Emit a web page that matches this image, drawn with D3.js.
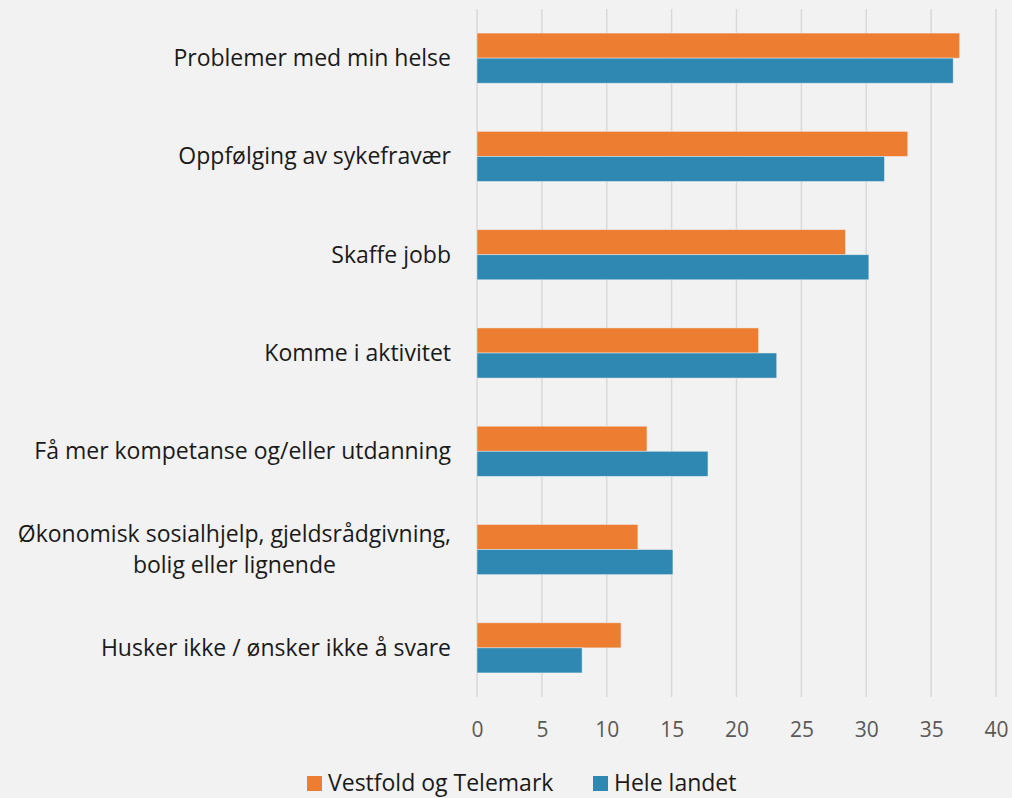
<!DOCTYPE html>
<html>
<head>
<meta charset="utf-8">
<script src="https://cdn.jsdelivr.net/npm/d3@7"></script>
<style>
  body { margin: 0; background: #f2f2f2; }
  svg { display: block; font-family: "Open Sans", sans-serif; }
</style>
</head>
<body>
<script>
// categories, top to bottom
var categories = [
    "Problemer med min helse",
    "Oppfølging av sykefravær",
    "Skaffe jobb",
    "Komme i aktivitet",
    "Få mer kompetanse og/eller utdanning",
    "Økonomisk sosialhjelp, gjeldsrådgivning,|bolig eller lignende",
    "Husker ikke / ønsker ikke å svare"
];
var seriesNames = ["Vestfold og Telemark", "Hele landet"];
var vestfold = [37.2, 33.2, 28.4, 21.7, 13.1, 12.4, 11.1];
var heleLandet = [36.7, 31.4, 30.2, 23.1, 17.8, 15.1, 8.1];
var xTicks = [0, 5, 10, 15, 20, 25, 30, 35, 40];
var colors = ["#ed7d31", "#2e88b2"];

var w = 1012, h = 798;
var plotLeft = 477, plotRight = 996, plotTop = 9, plotBottom = 697;

var svg = d3.select("body").append("svg")
    .attr("width", w)
    .attr("height", h);

svg.append("rect").attr("width", w).attr("height", h).attr("fill", "#f2f2f2");

var x = d3.scaleLinear().domain([0, 40]).range([plotLeft, plotRight]);
var y = d3.scaleBand().domain(d3.range(categories.length)).range([plotTop, plotBottom]).paddingInner(0.49).paddingOuter(0.245);
var ySub = d3.scaleBand().domain([0, 1]).range([0, y.bandwidth()]);

// gridlines
svg.append("g").selectAll("line")
    .data(xTicks)
    .enter()
    .append("line")
    .attr("x1", function(d) { return x(d); })
    .attr("x2", function(d) { return x(d); })
    .attr("y1", plotTop)
    .attr("y2", plotBottom)
    .attr("stroke", "#d9d9d9")
    .attr("stroke-width", 1.5);

// bars
var series = [vestfold, heleLandet];
series.forEach(function(vals, s) {
    svg.append("g").selectAll("rect")
        .data(vals)
        .enter()
        .append("rect")
        .attr("x", x(0))
        .attr("y", function(d, i) { return y(i) + ySub(s); })
        .attr("width", function(d) { return x(d) - x(0); })
        .attr("height", ySub.bandwidth())
        .attr("fill", colors[s])
        .attr("stroke", "#f2f2f2")
        .attr("stroke-opacity", 0.6)
        .attr("stroke-width", 0.8);
});

// x axis labels
var xAxis = d3.axisBottom(x).tickValues(xTicks).tickSize(0).tickPadding(0);
var gx = svg.append("g").attr("transform", "translate(0," + 722 + ")").call(xAxis);
gx.select(".domain").remove();
gx.selectAll("text")
    .attr("font-size", "21px")
    .attr("font-family", "Open Sans, sans-serif")
    .attr("fill", "#595959");

// category labels
var labelX = 451, fs = "23px";
categories.forEach(function(c, i) {
    var lines = c.split("|");
    var cy = y(i) + y.bandwidth() / 2;
    if (lines.length === 1) {
        svg.append("text")
            .attr("x", labelX)
            .attr("y", cy)
            .attr("dy", "0.35em")
            .attr("text-anchor", "end")
            .attr("font-size", fs)
            .attr("fill", "#1a1a1a")
            .text(c);
    } else {
        var t1 = svg.append("text")
            .attr("x", labelX)
            .attr("y", cy - 15.5)
            .attr("dy", "0.35em")
            .attr("text-anchor", "end")
            .attr("font-size", fs)
            .attr("fill", "#1a1a1a")
            .text(lines[0]);
        var w1 = t1.node().getComputedTextLength();
        svg.append("text")
            .attr("x", labelX - w1 / 2)
            .attr("y", cy + 15.5)
            .attr("dy", "0.35em")
            .attr("text-anchor", "middle")
            .attr("font-size", fs)
            .attr("fill", "#1a1a1a")
            .text(lines[1]);
    }
});

// legend
var legendX = [307, 593];
seriesNames.forEach(function(name, s) {
    var g = svg.append("g").attr("transform", "translate(" + legendX[s] + ",0)");
    g.append("rect")
        .attr("x", 0)
        .attr("y", 776)
        .attr("width", 15)
        .attr("height", 15)
        .attr("fill", colors[s]);
    g.append("text")
        .attr("x", 21)
        .attr("y", 791)
        .attr("font-size", fs)
        .attr("fill", "#1a1a1a")
        .text(name);
});
</script>
</body>
</html>
